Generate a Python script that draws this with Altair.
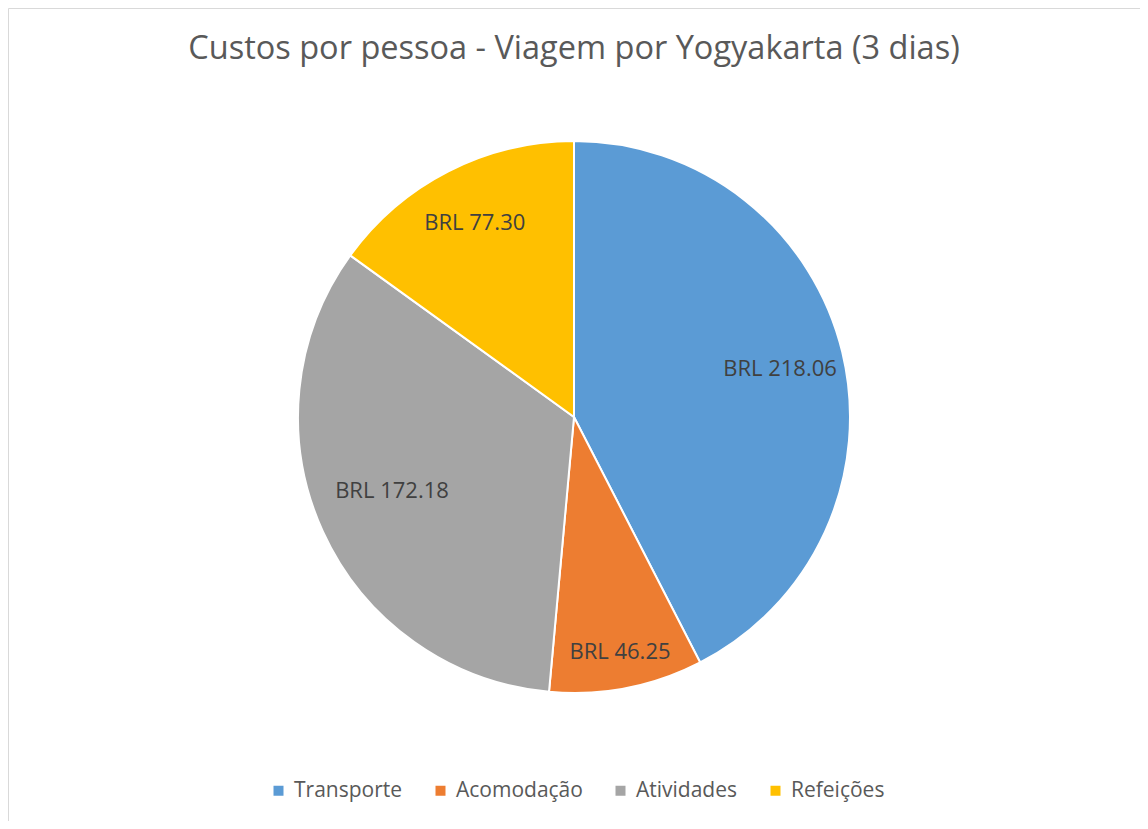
import altair as alt
import pandas as pd

categories = ["Transporte", "Acomodação", "Atividades", "Refeições"]
values = [218.06, 46.25, 172.18, 77.30]
labels = ["BRL 218.06", "BRL 46.25", "BRL 172.18", "BRL 77.30"]
colors = ["#5B9BD5", "#ED7D31", "#A5A5A5", "#FFC000"]
title_text = "Custos por pessoa - Viagem por Yogyakarta (3 dias)"

df = pd.DataFrame({
    "categoria": categories,
    "valor": values,
    "rotulo": labels,
    "ordem": list(range(len(categories))),
})

CX, CY, R = 566, 409, 276
FONT = "Open Sans"

# label placement (radius, vertical nudge) per slice, like Excel's best fit
label_pos = {
    "Transporte": (212, 2),
    "Acomodação": (241, -2),
    "Atividades": (200, -9),
    "Refeições": (218, 0),
}

pie = alt.Chart(df).mark_arc(outerRadius=R, stroke="white", strokeWidth=2).encode(
    theta=alt.Theta("valor:Q", stack=True),
    order=alt.Order("ordem:Q"),
    x=alt.value(CX),
    y=alt.value(CY),
    color=alt.Color(
        "categoria:N",
        scale=alt.Scale(domain=categories, range=colors),
        sort=categories,
        legend=alt.Legend(
            orient="none",
            legendX=260,
            legendY=772,
            direction="horizontal",
            title=None,
            symbolType="square",
            symbolSize=100,
            symbolStrokeWidth=0,
            labelFont=FONT,
            labelFontSize=21,
            labelColor="#595959",
            labelOffset=5,
            columnPadding=27,
            padding=0,
        ),
    ),
)

text_base = (
    alt.Chart(df)
    .transform_window(acum="sum(valor)", sort=[alt.SortField("ordem")], frame=[None, 0])
    .transform_calculate(meio="datum.acum - datum.valor / 2")
)

layers = [pie]
for cat in categories:
    r, dy = label_pos[cat]
    layers.append(
        text_base.transform_filter(alt.datum.categoria == cat)
        .mark_text(font=FONT, fontSize=22, color="#404040", radius=r, dy=dy)
        .encode(
            theta=alt.Theta("meio:Q", stack=None),
            x=alt.value(CX),
            y=alt.value(CY),
            text="rotulo:N",
        )
    )

chart = alt.layer(*layers).properties(
    width=1132,
    height=813,
    padding=0,
    title=alt.TitleParams(
        text=title_text,
        font=FONT,
        fontSize=32.5,
        fontWeight="normal",
        color="#595959",
        anchor="middle",
        offset=-57,
    ),
).configure_view(stroke="#D9D9D9", strokeWidth=1)

chart.save("out.html", embed_options={"renderer": "svg", "actions": False})
